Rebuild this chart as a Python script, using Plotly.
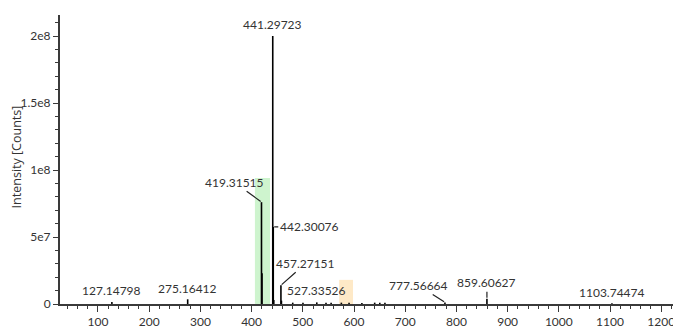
import plotly.graph_objects as go

# ---- data ----
peak_mz = [127.14798, 275.16412, 419.31515, 420.32, 441.29723, 442.30076, 443.30,
           457.27151, 458.27, 480.3, 500.3, 527.33526, 545.3, 555.3, 575.3, 590.3,
           615.4, 640.4, 650.4, 660.4, 777.56664, 859.60627, 1103.74474]
peak_int = [1.5e6, 3.5e6, 7.6e7, 2.3e7, 2.0e8, 5.75e7, 3.0e6,
            1.4e7, 2.5e6, 1.0e6, 1.0e6, 1.2e6, 1.0e6, 1.0e6, 1.0e6, 1.0e6,
            0.8e6, 1.0e6, 1.0e6, 1.0e6, 1.2e6, 4.0e6, 0.6e6]

label_mz = [127.14798, 275.16412, 419.31515, 441.29723, 442.30076, 457.27151,
            527.33526, 777.56664, 859.60627, 1103.74474]
label_int = [1.5e6, 3.5e6, 7.6e7, 2.0e8, 5.75e7, 1.4e7, 1.2e6, 1.2e6, 4.0e6, 0.6e6]
label_text = ["127.14798", "275.16412", "419.31515", "441.29723", "442.30076",
              "457.27151", "527.33526", "777.56664", "859.60627", "1103.74474"]
# label offsets in pixels (ax, ay) and whether a leader line is drawn
label_ax = [0, 0, -27, 0, 36, 25, 0, -26, 0, 0]
label_ay = [-10, -9, -20, -10, 0, -22, -10, -17, -16, -9]
label_arrow = [False, False, True, False, True, True, False, True, True, False]

highlight_x0 = [406.5, 571.0]
highlight_x1 = [436.0, 598.0]
highlight_top = [9.4e7, 1.8e7]
highlight_col = ["rgba(190,240,190,0.75)", "rgba(253,226,180,0.75)"]

x_tickvals = [100, 200, 300, 400, 500, 600, 700, 800, 900, 1000, 1100, 1200]
y_tickvals = [0, 5e7, 1e8, 1.5e8, 2e8]
y_ticktext = ["0", "5e7", "1e8", "1.5e8", "2e8"]
y_title = "Intensity [Counts]"

# ---- build stick spectrum ----
xs, ys = [], []
for m, v in zip(peak_mz, peak_int):
    xs += [m, m, None]
    ys += [0, v, None]

fig = go.Figure()
fig.add_trace(go.Scatter(x=xs, y=ys, mode="lines",
                         line=dict(color="black", width=1.6),
                         hoverinfo="skip", showlegend=False))

for x0, x1, top, col in zip(highlight_x0, highlight_x1, highlight_top, highlight_col):
    fig.add_shape(type="rect", xref="x", yref="y", x0=x0, x1=x1, y0=0, y1=top,
                  fillcolor=col, line=dict(width=0), layer="below")

font_lbl = dict(family="Lato, Open Sans, sans-serif", size=12, color="#333333")
for m, v, t, ax, ay, ar in zip(label_mz, label_int, label_text, label_ax, label_ay, label_arrow):
    if ar:
        fig.add_annotation(x=m, y=v, text=t, showarrow=True, arrowhead=0,
                           arrowwidth=1.2, arrowcolor="#222222", ax=ax, ay=ay,
                           standoff=1, font=font_lbl)
    else:
        fig.add_annotation(x=m, y=v, text=t, showarrow=False, yanchor="bottom",
                           yshift=-ay - 8, font=font_lbl)

# y-axis title placed as a rotated annotation (closer to the tick labels than standoff allows)
fig.add_annotation(xref="paper", yref="paper", x=-0.071, y=0.509, text=y_title,
                   textangle=-90, showarrow=False, xanchor="center", yanchor="middle",
                   font=dict(family="Open Sans, sans-serif", size=12.5, color="#333333"))

axis_col = "#3a3a3a"
fig.update_xaxes(range=[25.8, 1223], tickvals=x_tickvals, ticks="outside",
                 ticklen=6, tickwidth=1, tickcolor=axis_col, automargin=False,
                 ticklabeloverflow="allow",
                 minor=dict(dtick=20, ticks="outside", ticklen=3, tickcolor=axis_col),
                 showline=True, linecolor=axis_col, linewidth=2,
                 showgrid=False, zeroline=False,
                 tickfont=dict(family="Lato, Open Sans, sans-serif", size=12, color="#333333"))
fig.update_yaxes(range=[0, 2.157e8], tickvals=y_tickvals, ticktext=y_ticktext,
                 ticks="outside", ticklen=5, tickwidth=1, tickcolor=axis_col, automargin=False,
                 minor=dict(dtick=1e7, ticks="outside", ticklen=3, tickcolor=axis_col),
                 showline=True, linecolor=axis_col, linewidth=2,
                 showgrid=False, zeroline=False,
                 tickfont=dict(family="Lato, Open Sans, sans-serif", size=12, color="#333333"))

fig.update_layout(width=673, height=331, margin=dict(l=60, r=0, t=15, b=27),
                  plot_bgcolor="white", paper_bgcolor="white")
# remove the default page-body margin so the figure sits at the window's corner
fig.write_html("out.html", config={"displayModeBar": False},
               post_script="document.body.style.margin='0';")
